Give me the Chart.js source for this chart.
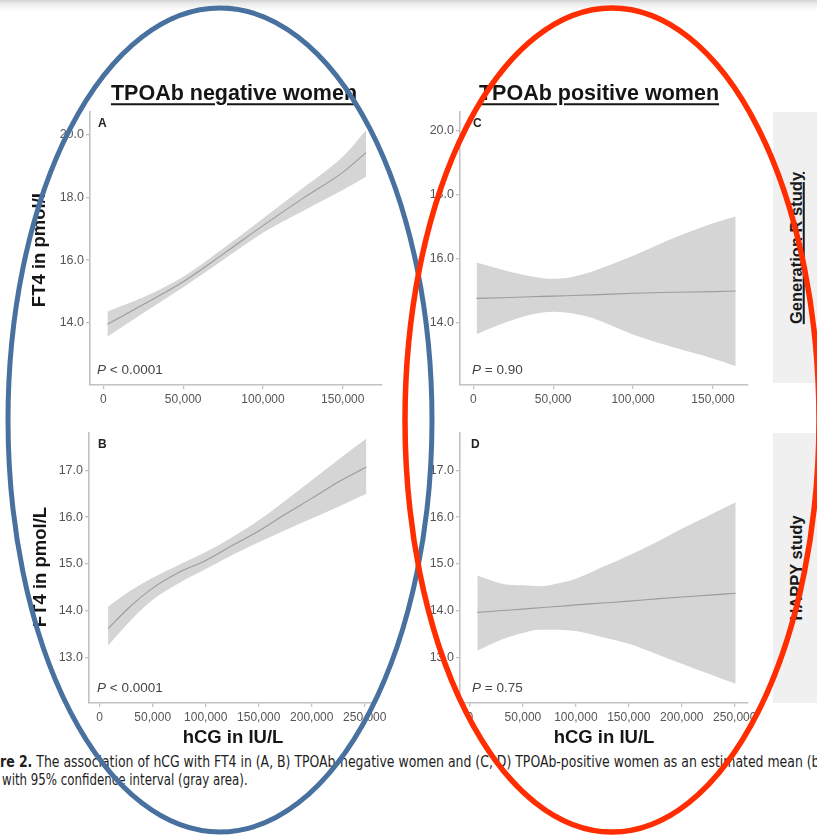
<!DOCTYPE html>
<html><head><meta charset="utf-8">
<script src="https://cdn.jsdelivr.net/npm/chart.js@4.4.1/dist/chart.umd.min.js"></script>
<style>
html,body{margin:0;padding:0;background:#fff;}
body{width:817px;height:836px;position:relative;overflow:hidden;font-family:"Liberation Sans",Arial,sans-serif;}
.abs{position:absolute;}
#topshade{left:0;top:0;width:817px;height:12px;background:linear-gradient(#d4d4d4,#ececec 4px,#fff 11px);}
.ctr{transform:translate(-50%,-50%);white-space:nowrap;line-height:1;}
.title{font-weight:bold;font-size:21.5px;color:#151515;text-decoration:underline;text-decoration-thickness:1.5px;text-underline-offset:3px;}
.axt{font-weight:bold;font-size:18.5px;color:#151515;}
.rot{transform:translate(-50%,-50%) rotate(-90deg);white-space:nowrap;line-height:1;}
.strip{background:#f0f0f0;}
.stript{font-weight:bold;font-size:16.5px;color:#1a1a1a;}
.cap{left:0;white-space:nowrap;font-family:"Liberation Sans Narrow","DejaVu Sans Condensed","Liberation Sans",sans-serif;font-size:15px;color:#1e1e1e;transform-origin:0 50%;line-height:1;}
canvas{position:absolute;}
svg{position:absolute;left:0;top:0;}
</style>
</head><body>
<div id="topshade" class="abs"></div>

<div class="abs strip" style="left:773px;top:112px;width:50px;height:271px;"></div>
<div class="abs strip" style="left:773px;top:433px;width:50px;height:270px;"></div>
<div class="abs rot stript" style="left:796px;top:248px;text-decoration:underline;text-decoration-thickness:1.5px;">Generation R study</div>
<div class="abs rot stript" style="left:796px;top:568px;">HAPPY study</div>

<canvas id="cA" width="367" height="308" style="left:45px;top:102px;"></canvas>
<canvas id="cC" width="363" height="308" style="left:415px;top:102px;"></canvas>
<canvas id="cB" width="359" height="305" style="left:44px;top:423px;"></canvas>
<canvas id="cD" width="363" height="305" style="left:415px;top:423px;"></canvas>

<div class="abs ctr title" style="left:234px;top:94px;">TPOAb negative women</div>
<div class="abs ctr title" style="left:599px;top:94px;">TPOAb positive women</div>
<div class="abs rot axt" style="left:39px;top:247px;">FT4 in pmol/L</div>
<div class="abs rot axt" style="left:40px;top:567px;">FT4 in pmol/L</div>
<div class="abs ctr axt" style="left:233px;top:737px;">hCG in IU/L</div>
<div class="abs ctr axt" style="left:604px;top:737px;">hCG in IU/L</div>

<div id="cap1" class="abs cap" style="top:754px;"><b>re 2.</b> The association of hCG with FT4 in (A, B) TPOAb-negative women and (C, D) TPOAb-positive women as an estimated mean <span id="capEnd">(black line)</span></div>
<div id="cap2" class="abs cap" style="top:772px;left:2px;">with 95% confidence interval (gray area).</div>

<svg width="817" height="836" viewBox="0 0 817 836">
  <ellipse cx="220" cy="420" rx="212" ry="412" fill="none" stroke="#48719f" stroke-width="5"/>
  <ellipse cx="612" cy="420" rx="207" ry="412" fill="none" stroke="#ff2d00" stroke-width="5.5"/>
</svg>

<script>
// ---- Panel A: Generation R, TPOAb negative ----
const hcgA   = [2500, 25000, 50000, 75000, 100000, 125000, 150000, 164600];
const fitA   = [13.95, 14.58, 15.31, 16.19, 17.10, 17.97, 18.80, 19.43];
const upperA = [14.36, 14.81, 15.47, 16.37, 17.33, 18.30, 19.30, 20.15];
const lowerA = [13.55, 14.31, 15.13, 16.00, 16.87, 17.57, 18.24, 18.66];
// ---- Panel C: Generation R, TPOAb positive ----
const hcgC   = [2100, 18750, 35000, 50000, 62500, 75000, 100000, 125000, 150000, 164200];
const fitC   = [14.75, 14.77, 14.80, 14.82, 14.84, 14.86, 14.91, 14.94, 14.96, 14.98];
const upperC = [15.87, 15.64, 15.45, 15.36, 15.43, 15.60, 16.08, 16.63, 17.10, 17.31];
const lowerC = [13.63, 13.97, 14.23, 14.33, 14.28, 14.13, 13.62, 13.22, 12.87, 12.63];
// ---- Panel B: HAPPY, TPOAb negative ----
const hcgB   = [7900, 28000, 50000, 75000, 100000, 125000, 150000, 175000, 200000, 225000, 251600];
const fitB   = [13.61, 14.07, 14.48, 14.82, 15.07, 15.39, 15.70, 16.06, 16.40, 16.75, 17.07];
const upperB = [14.08, 14.41, 14.70, 14.98, 15.25, 15.57, 15.93, 16.35, 16.79, 17.23, 17.68];
const lowerB = [13.25, 13.76, 14.23, 14.59, 14.89, 15.19, 15.46, 15.72, 15.97, 16.22, 16.50];
// ---- Panel D: HAPPY, TPOAb positive ----
const hcgD   = [6900, 31000, 50000, 66000, 85000, 100000, 125000, 150000, 176000, 200000, 226000, 250900];
const fitD   = [13.96, 14.00, 14.03, 14.06, 14.09, 14.12, 14.16, 14.20, 14.25, 14.29, 14.33, 14.37];
const upperD = [14.75, 14.57, 14.54, 14.52, 14.59, 14.68, 14.93, 15.18, 15.46, 15.75, 16.04, 16.32];
const lowerD = [13.14, 13.39, 13.52, 13.59, 13.59, 13.56, 13.43, 13.29, 13.07, 12.86, 12.64, 12.43];
// ---- ticks and labels ----
const xTicksGenR  = [0, 50000, 100000, 150000];
const xTicksHappy = [0, 50000, 100000, 150000, 200000, 250000];
const yTicksGenR  = [14, 16, 18, 20];
const yTicksHappy = [13, 14, 15, 16, 17];
const panelLetters = ['A', 'C', 'B', 'D'];
const pLabels = [' < 0.0001', ' = 0.90', ' < 0.0001', ' = 0.75'];

const FONT = '"Liberation Sans", Arial, sans-serif';
const AXIS = '#c2c2c2', TICK = '#555555', BAND = '#d5d5d5', LINE = '#9c9c9c';

const panelText = {
  id: 'panelText',
  afterDatasetsDraw(chart, args, o) {
    const {ctx, chartArea: a} = chart;
    ctx.save();
    ctx.textBaseline = 'middle';
    ctx.textAlign = 'left';
    ctx.fillStyle = '#222';
    ctx.font = 'bold 12px ' + FONT;
    ctx.fillText(o.letter, a.left + o.lx, a.top + 12);
    ctx.fillStyle = '#454545';
    const px = a.left + o.px, py = a.bottom - 14.5;
    ctx.font = 'italic 13.5px ' + FONT;
    ctx.fillText('P', px, py);
    const w = ctx.measureText('P').width;
    ctx.font = '13.5px ' + FONT;
    ctx.fillText(o.text, px + w, py);
    ctx.restore();
  }
};

function pts(xs, ys) { return xs.map((x, i) => ({x: x, y: ys[i]})); }
function fmtX(v) { return v === 0 ? '0' : Math.round(v).toLocaleString('en-US'); }

function makePanel(id, xs, fit, up, lo, xr, yr, xt, yt, idx, px, lx) {
  return new Chart(document.getElementById(id), {
    type: 'line',
    data: { datasets: [
      { data: pts(xs, fit), fill: false, borderColor: LINE, borderWidth: 1.1, pointRadius: 0, cubicInterpolationMode: 'monotone' },
      { data: pts(xs, up), fill: '+1', backgroundColor: BAND, borderWidth: 0, pointRadius: 0, cubicInterpolationMode: 'monotone' },
      { data: pts(xs, lo), fill: false, borderWidth: 0, pointRadius: 0, cubicInterpolationMode: 'monotone' }
    ]},
    options: {
      responsive: false, animation: false, devicePixelRatio: 1,
      layout: { padding: { left: 0, top: 10, right: 30, bottom: 0 } },
      plugins: { legend: { display: false }, tooltip: { enabled: false },
                 panelText: { letter: panelLetters[idx], text: pLabels[idx], px: px, lx: lx } },
      scales: {
        x: { type: 'linear', min: xr[0], max: xr[1],
             afterBuildTicks: s => { s.ticks = xt.map(v => ({value: v})); },
             afterFit: s => { s.height = 25; },
             border: { display: true, color: AXIS, width: 1.6 },
             grid: { display: true, drawOnChartArea: false, drawTicks: true, tickLength: 4, color: AXIS, lineWidth: 1.3 },
             ticks: { autoSkip: false, maxRotation: 0, minRotation: 0, padding: 3,
                      color: TICK, font: { family: FONT, size: 12 }, callback: v => fmtX(v) } },
        y: { type: 'linear', min: yr[0], max: yr[1],
             afterBuildTicks: s => { s.ticks = yt.map(v => ({value: v})); },
             afterFit: s => { s.width = 45; },
             border: { display: true, color: AXIS, width: 1.6 },
             grid: { display: true, drawOnChartArea: false, drawTicks: true, tickLength: 4, color: AXIS, lineWidth: 1.3 },
             ticks: { autoSkip: false, padding: 2,
                      color: TICK, font: { family: FONT, size: 12.5 }, callback: v => Number(v).toFixed(1) } }
      }
    },
    plugins: [panelText]
  });
}

makePanel('cA', hcgA, fitA, upperA, lowerA, [-8400, 174600], [12.01, 20.73], xTicksGenR, yTicksGenR, 0, 7, 8);
makePanel('cC', hcgC, fitC, upperC, lowerC, [-8300, 171900], [12.04, 20.58], xTicksGenR, yTicksGenR, 1, 12, 13);
makePanel('cB', hcgB, fitB, upperB, lowerB, [-10100, 257800], [12.02, 17.80], xTicksHappy, yTicksHappy, 2, 8, 9);
makePanel('cD', hcgD, fitD, upperD, lowerD, [-9400, 262500], [12.02, 17.80], xTicksHappy, yTicksHappy, 3, 12, 11);

// fit caption widths to the reference's crop
(function () {
  const c1 = document.getElementById('cap1'), end = document.getElementById('capEnd');
  const s1 = 807 / end.offsetLeft;
  c1.style.transform = 'translateY(-50%) scaleX(' + s1 + ')';
  const c2 = document.getElementById('cap2');
  const s2 = 246 / c2.scrollWidth;
  c2.style.transform = 'translateY(-50%) scaleX(' + s2 + ')';
  c1.style.top = '762px'; c2.style.top = '780px';
})();
</script>
</body></html>
